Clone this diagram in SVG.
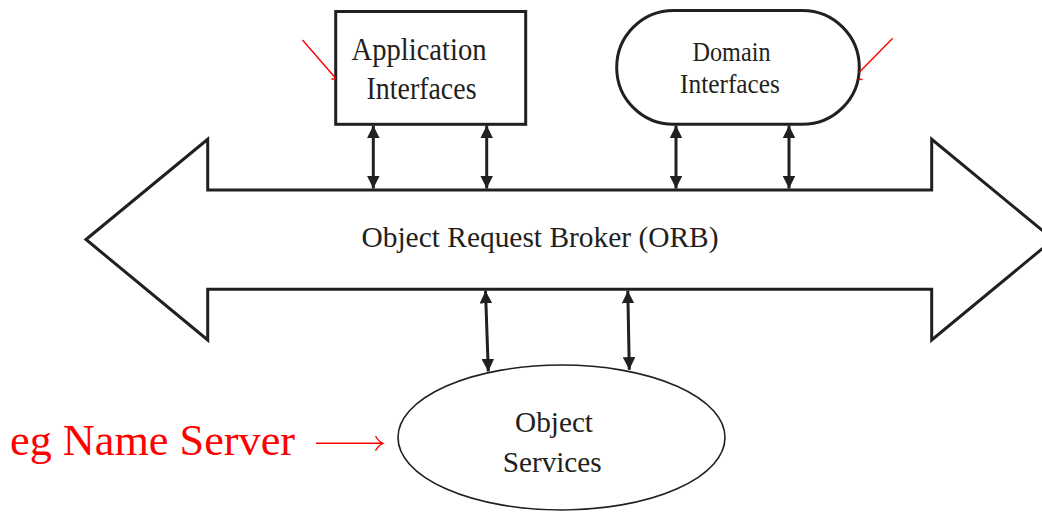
<svg xmlns="http://www.w3.org/2000/svg" width="1042" height="512" viewBox="0 0 1042 512">
<style>
.shape{fill:#fff;stroke:#231f20;stroke-width:3;stroke-linejoin:miter}
.thin{fill:#fff;stroke:#231f20;stroke-width:1.6}
.lbl{font-family:"Liberation Serif","Times New Roman",serif;fill:#231f20;text-anchor:middle}
.conn{stroke:#231f20;stroke-width:3;fill:none}
.red{stroke:#ff0000;stroke-width:1.4;fill:none}
.redtxt{font-family:"Liberation Serif","Times New Roman",serif;fill:#ff0000;font-size:44px}
</style>
<defs>
<marker id="ah" viewBox="0 0 10 10" refX="10" refY="5" markerWidth="4.2" markerHeight="4.2" orient="auto-start-reverse" markerUnits="strokeWidth">
<path d="M0,0 L10,5 L0,10 z" fill="#231f20"/>
</marker>
</defs>
<g id="orb">
<path class="shape" d="M86,239.5 L207.7,139.3 L207.7,190 L931.7,190 L931.7,139.3 L1053.4,239.5 L931.7,340 L931.7,289.3 L207.7,289.3 L207.7,340 Z"/>
<text class="lbl" x="540" y="246.7" font-size="29" textLength="357" lengthAdjust="spacingAndGlyphs">Object Request Broker (ORB)</text>
</g>
<g id="app">
<rect class="shape" x="335.7" y="11.5" width="190" height="112.8"/>
<text class="lbl" x="419" y="60" font-size="32.5" textLength="135" lengthAdjust="spacingAndGlyphs">Application</text>
<text class="lbl" x="421.5" y="98.5" font-size="32.5" textLength="110" lengthAdjust="spacingAndGlyphs">Interfaces</text>
</g>
<g id="domain">
<rect class="shape" x="616.7" y="10.5" width="242.6" height="113.8" rx="56.9" ry="56.9"/>
<text class="lbl" x="731.5" y="61" font-size="27" textLength="78" lengthAdjust="spacingAndGlyphs">Domain</text>
<text class="lbl" x="730" y="92.7" font-size="27" textLength="100" lengthAdjust="spacingAndGlyphs">Interfaces</text>
</g>
<g id="services">
<ellipse class="thin" cx="561.5" cy="437.5" rx="163.5" ry="72.5"/>
<text class="lbl" x="554" y="431.7" font-size="29.5" textLength="78" lengthAdjust="spacingAndGlyphs">Object</text>
<text class="lbl" x="552.2" y="471.7" font-size="29.5" textLength="99" lengthAdjust="spacingAndGlyphs">Services</text>
</g>
<g id="note">
<text class="redtxt" x="10" y="455" textLength="285" lengthAdjust="spacingAndGlyphs">eg Name Server</text>
</g>
<g id="connectors">
<line class="conn" x1="373.3" y1="125.5" x2="373.3" y2="188.5" marker-start="url(#ah)" marker-end="url(#ah)"/>
<line class="conn" x1="486.7" y1="125.5" x2="486.7" y2="188.5" marker-start="url(#ah)" marker-end="url(#ah)"/>
<line class="conn" x1="676" y1="125.5" x2="676" y2="188.5" marker-start="url(#ah)" marker-end="url(#ah)"/>
<line class="conn" x1="789" y1="125.5" x2="789" y2="188.5" marker-start="url(#ah)" marker-end="url(#ah)"/>
<line class="conn" x1="485.5" y1="290.8" x2="488.3" y2="371.5" marker-start="url(#ah)" marker-end="url(#ah)"/>
<line class="conn" x1="627.8" y1="290.8" x2="629.3" y2="369.8" marker-start="url(#ah)" marker-end="url(#ah)"/>
<line class="red" x1="302.5" y1="40" x2="335" y2="77.5"/>
<path class="red" d="M331.5,79.2 L336,78.4"/>
<line class="red" x1="892.7" y1="38.3" x2="859" y2="72.5"/>
<path class="red" d="M858.5,79 L862.5,79.6"/>
<path class="red" stroke-width="1.6" d="M316,443.3 L382.5,443.3 M375.5,436 Q378.5,441.5 383,443.3 Q378.5,445.2 375.5,450.6"/>
</g>
</svg>
